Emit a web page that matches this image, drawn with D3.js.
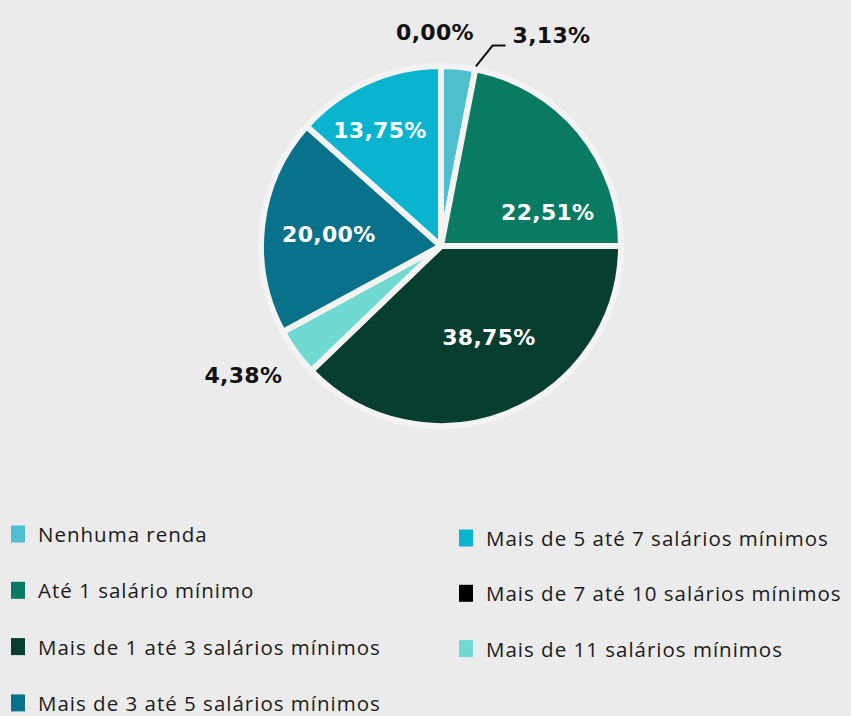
<!DOCTYPE html>
<html>
<head>
<meta charset="utf-8">
<script src="https://cdn.jsdelivr.net/npm/d3@7/dist/d3.min.js"></script>
<style>
  html, body { margin: 0; padding: 0; background: #ebebeb; }
  svg { display: block; }
</style>
</head>
<body>
<svg id="chart" width="851" height="716"></svg>
<script>
// ---- data ----
const categories = [
  "Nenhuma renda",
  "Até 1 salário mínimo",
  "Mais de 1 até 3 salários mínimos",
  "Mais de 3 até 5 salários mínimos",
  "Mais de 5 até 7 salários mínimos",
  "Mais de 7 até 10 salários mínimos",
  "Mais de 11 salários mínimos"
];
const values = [3.13, 22.51, 38.75, 20.00, 13.75, 0.00, 4.38];
const valueLabels = ["3,13%", "22,51%", "38,75%", "20,00%", "13,75%", "0,00%", "4,38%"];
const colors = ["#4fbfcf", "#0a7a62", "#073e30", "#0a718b", "#0ab4cf", "#000000", "#70d9d2"];
// order of slices around the pie (clockwise from 12 o'clock)
const pieOrder = [0, 1, 2, 6, 3, 4, 5];

// ---- layout ----
const W = 851, H = 716;
const cx = 441, cy = 246, R = 180;
const svg = d3.select("#chart");
svg.append("rect").attr("width", W).attr("height", H).attr("fill", "#ebebeb");

const rows = pieOrder.map(i => ({ i, name: categories[i], value: values[i], label: valueLabels[i], color: colors[i] }));
const pie = d3.pie().sort(null).value(d => d.value);
const arcs = pie(rows);
const arc = d3.arc().innerRadius(0).outerRadius(R);

const g = svg.append("g").attr("transform", `translate(${cx},${cy})`);
g.selectAll("path.slice")
  .data(arcs.filter(a => a.data.value > 0))
  .join("path")
  .attr("class", "slice")
  .attr("d", arc)
  .attr("fill", d => d.data.color)
  .attr("stroke", "#f3f3f3")
  .attr("stroke-width", 6)
  .attr("stroke-linejoin", "round");

// label placement: inside labels at radius 115, outside labels beyond the rim
const inside = new Set([1, 2, 3, 4]);
const nudge = { 0: [0, 0], 1: [18, 40], 2: [5, -15], 3: [2, 2], 4: [-14, -11], 5: [-6, -12], 6: [-4, -12] };
const labelFont = "'DejaVu Sans', sans-serif";

arcs.forEach(a => {
  const i = a.data.i;
  const mid = (a.startAngle + a.endAngle) / 2;
  let x, y, anchor = "middle", fill = "#fff";
  if (inside.has(i)) {
    x = 115 * Math.sin(mid); y = -115 * Math.cos(mid);
  } else if (i === 0) {
    // leader line from slice edge
    const ang = a.endAngle;
    const p1 = [(R + 3) * Math.sin(ang), -(R + 3) * Math.cos(ang)];
    const p2 = [(R + 27) * Math.sin(ang + 0.06), -(R + 27) * Math.cos(ang + 0.06)];
    const p3 = [p2[0] + 13, p2[1]];
    g.append("polyline")
      .attr("points", [p1, p2, p3].map(p => p.join(",")).join(" "))
      .attr("fill", "none").attr("stroke", "#111").attr("stroke-width", 2);
    x = p3[0] + 7; y = p3[1] - 3; anchor = "start"; fill = "#111";
  } else {
    const r = i === 5 ? R + 22 : 240;
    x = r * Math.sin(mid); y = -r * Math.cos(mid);
    fill = "#111";
  }
  const [nx, ny] = nudge[i];
  g.append("text")
    .attr("x", x + (i === 0 ? 0 : nx)).attr("y", y + (i === 0 ? 0 : ny))
    .attr("text-anchor", anchor)
    .attr("dominant-baseline", i === 0 ? "auto" : "central")
    .attr("font-family", labelFont)
    .attr("font-weight", "bold")
    .attr("font-size", 22)
    .attr("letter-spacing", 0.3)
    .attr("fill", fill)
    .text(a.data.label);
});

// ---- legend ----
const legendFont = "'Open Sans', sans-serif";
const leg = svg.append("g");
categories.forEach((name, i) => {
  const col = i < 4 ? 0 : 1;
  const row = i < 4 ? i : i - 4;
  const sx = col === 0 ? 11 : 459;
  const yc = col === 0 ? 534 + row * 56.3 : 538 + row * 55.3;
  leg.append("rect")
    .attr("x", sx).attr("y", yc - 8.5).attr("width", 14).attr("height", 17)
    .attr("fill", colors[i]);
  leg.append("text")
    .attr("x", col === 0 ? 38 : 486).attr("y", yc)
    .attr("dominant-baseline", "central")
    .attr("font-family", legendFont)
    .attr("font-size", 20.5)
    .attr("letter-spacing", 1.0)
    .attr("fill", "#1a1a1a")
    .text(name);
});
</script>
</body>
</html>
